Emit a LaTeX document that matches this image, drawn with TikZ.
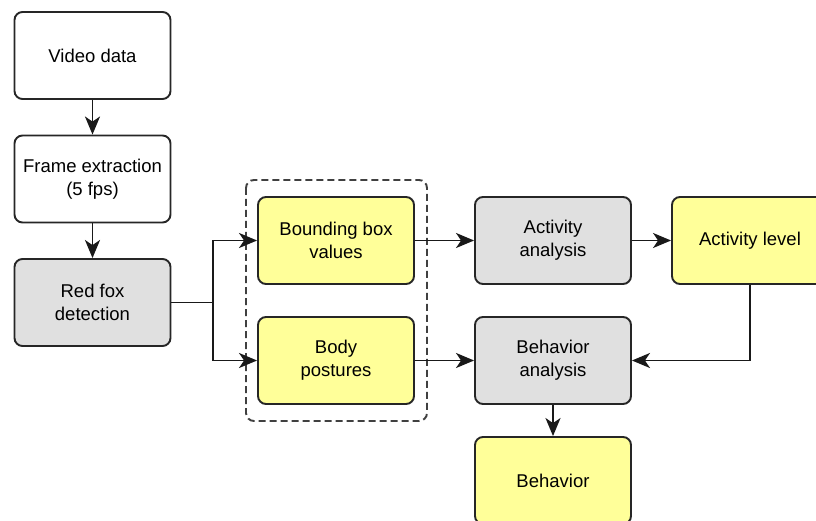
\documentclass[tikz,border=0pt]{standalone}
\usepackage{fontspec}
\setmainfont{Liberation Sans}
\usetikzlibrary{arrows.meta}
\definecolor{boxyellow}{HTML}{FFFF99}
\definecolor{boxgray}{HTML}{E0E0E0}
\definecolor{edge}{HTML}{262626}
\tikzset{
  box/.style={draw=edge, line width=1.9pt, rounded corners=8pt,
    minimum width=156pt, minimum height=87pt, inner sep=0pt, align=center,
    font=\fontsize{18.5}{23}\selectfont},
  whitebox/.style={box, fill=white},
  graybox/.style={box, fill=boxgray},
  yellowbox/.style={box, fill=boxyellow},
  conn/.style={draw=black!90, line width=1.9pt, -{Stealth[length=18pt,width=15pt,inset=5pt]}},
  plain/.style={draw=black!90, line width=1.9pt},
  group/.style={draw=black!75, line width=1.9pt, dashed, dash pattern=on 7pt off 4pt, rounded corners=8pt}
}
\begin{document}
\begin{tikzpicture}[x=1pt,y=-1pt]
\useasboundingbox (0,0) rectangle (816,521);
\fill[white] (0,0) rectangle (816,521);
\draw[group] (246,180) rectangle (427,421);
\node[whitebox] (video) at (92.5,55.5) {Video data};
\node[whitebox] (frame) at (92.5,179) {Frame extraction\\(5 fps)};
\node[graybox] (fox) at (92.5,302.5) {Red fox\\detection};
\node[yellowbox] (bbox) at (336,240.5) {Bounding box\\values};
\node[yellowbox] (body) at (336,360.5) {Body\\postures};
\node[graybox] (act) at (553,240.5) {Activity\\analysis};
\node[yellowbox] (level) at (750,240.5) {Activity level};
\node[graybox] (beh) at (553,360.5) {Behavior\\analysis};
\node[yellowbox] (behavior) at (553,480.5) {Behavior};
\coordinate (split) at (213,302.5);
\draw[conn] (video) -- (frame);
\draw[conn] (frame) -- (fox);
\draw[plain] (fox.east) -- (split);
\draw[conn] (split) |- (bbox.west);
\draw[conn] (split) |- (body.west);
\draw[conn] (bbox) -- (act);
\draw[conn] (body) -- (beh);
\draw[conn] (act) -- (level);
\draw[conn] (level.south) |- (beh.east);
\draw[conn] (beh) -- (behavior);
\end{tikzpicture}
\end{document}
